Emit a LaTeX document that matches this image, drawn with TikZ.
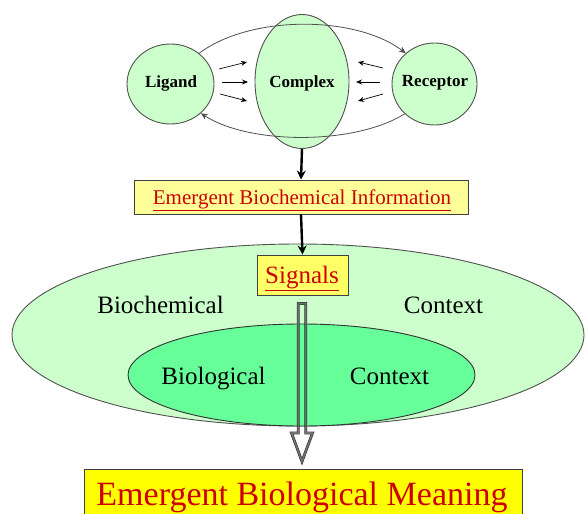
\documentclass[tikz,border=0pt]{standalone}
\usepackage{fontspec}
\setmainfont{Liberation Serif}
\usetikzlibrary{arrows.meta,shapes.geometric,calc}
\definecolor{paleGreen}{HTML}{CCFFCC}
\definecolor{midGreen}{HTML}{66FF99}
\definecolor{paleYellow}{HTML}{FFFF99}
\definecolor{signalYellow}{HTML}{FFFF66}
\definecolor{brightYellow}{HTML}{FFFF00}
\definecolor{deepRed}{HTML}{CC0000}
\definecolor{edgeGray}{HTML}{505050}
\begin{document}
\begin{tikzpicture}[x=1pt,y=-1pt,
  blob/.style={ellipse, draw=edgeGray, line width=0.9pt, fill=paleGreen, inner sep=0pt},
  molname/.style={font=\fontsize{17}{20}\selectfont\bfseries, anchor=base, inner sep=0pt},
  ctxname/.style={font=\fontsize{25}{30}\selectfont, anchor=base, inner sep=0pt},
  tagbox/.style={draw=black!75, line width=0.9pt, inner sep=0pt},
  bindarrow/.style={-{Stealth[length=6pt,width=5pt]}, line width=0.7pt, black},
  looparrow/.style={-{Stealth[length=7pt,width=6pt]}, line width=0.8pt, edgeGray},
  flowarrow/.style={-{Stealth[length=9pt,width=9pt]}, line width=2.4pt, black}
]
\useasboundingbox (0,0) rectangle (585,513);
\fill[white] (0,0) rectangle (585,513);

% context ellipses
\node[ellipse, draw=edgeGray, line width=0.9pt, fill=paleGreen, minimum width=572, minimum height=182] (outer) at (298,335) {};
\node[ellipse, draw=black!80, line width=0.9pt, fill=midGreen, minimum width=347, minimum height=102] (inner) at (301.5,375) {};
\node[ctxname] (bcWord) at (160.5,313) {Biochemical};
\node[ctxname] (bcCtx) at (443.5,313) {Context};
\node[ctxname] (blWord) at (213.5,384) {Biological};
\node[ctxname] (blCtx) at (389.5,384) {Context};

% binding partners
\node[blob, minimum width=87, minimum height=80] (lig) at (170.5,84) {};
\node[blob, minimum width=85, minimum height=82] (rec) at (434.5,84) {};
\node[blob, minimum width=94, minimum height=134] (cplx) at (302,81.5) {};
\node[molname] (ligT) at (171,88) {Ligand};
\node[molname] (cplxT) at (302,88) {Complex};
\node[molname] (recT) at (435,87) {Receptor};

% exchange loop
\draw[looparrow] (lig.47) .. controls (250,15) and (355,15) .. (rec.133);
\draw[looparrow] (rec.225) .. controls (355,145) and (250,145) .. (lig.316);

% association arrows
\coordinate (la1) at (219,69);  \coordinate (lb1) at (247,62);
\coordinate (la2) at (222,82);  \coordinate (lb2) at (248,82);
\coordinate (la3) at (220,94);  \coordinate (lb3) at (247,101);
\coordinate (ra1) at (383,68);  \coordinate (rb1) at (358,62);
\coordinate (ra2) at (380,82);  \coordinate (rb2) at (356,82);
\coordinate (ra3) at (383,94);  \coordinate (rb3) at (358,101);
\foreach \i in {1,2,3} {
  \draw[bindarrow] (la\i) -- (lb\i);
  \draw[bindarrow] (ra\i) -- (rb\i);
}

% information boxes
\node[tagbox, fill=paleYellow, minimum width=334, minimum height=34] (info) at (301,197) {};
\node[anchor=base, inner sep=0pt, text=deepRed, font=\fontsize{21}{24}\selectfont] (infoT) at (302,204) {\underline{Emergent Biochemical Information}};
\node[tagbox, fill=signalYellow, minimum width=91, minimum height=40] (sig) at (302.5,275) {};
\node[anchor=base, inner sep=0pt, text=deepRed, font=\fontsize{25}{30}\selectfont] (sigT) at (302,283) {\underline{Signals}};

\draw[flowarrow] (cplx.south) -- (info.north);
\draw[flowarrow] (info.south) -- (sig.north);

% hollow arrow through the contexts
\coordinate (hollowTop) at (302,303.5);
\draw[line width=0.6pt, draw=black, double=gray, double distance=1.6pt, draw opacity=0.8, line join=miter]
  ($(hollowTop)+(-3.8,0)$) -- (298.2,433) -- (291.5,433) -- (302,461.5) -- (312.5,433) -- (305.8,433) -- ($(hollowTop)+(3.8,0)$) -- cycle;

% result box
\node[tagbox, fill=brightYellow, minimum width=438, minimum height=48, anchor=north west] (meaning) at (84,469) {};
\node[anchor=base, inner sep=0pt, text=deepRed, font=\fontsize{34}{40}\selectfont] (meaningT) at (302,505) {Emergent Biological Meaning};
\end{tikzpicture}
\end{document}
